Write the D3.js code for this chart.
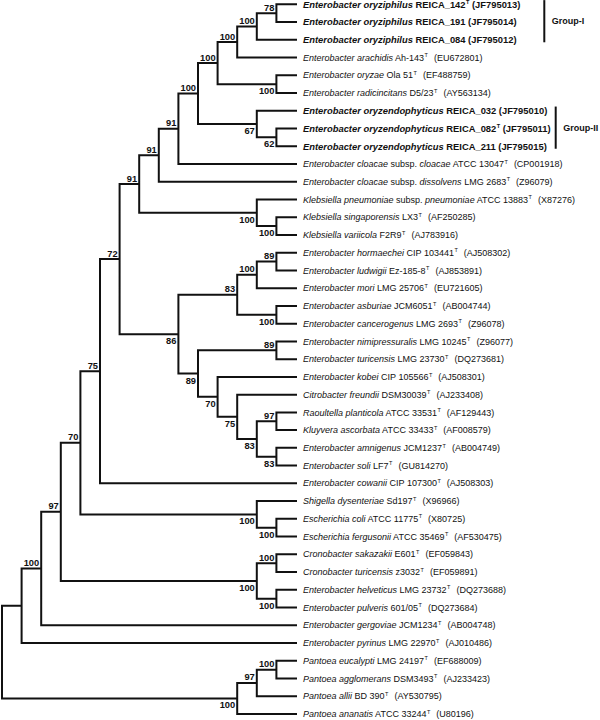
<!DOCTYPE html>
<html>
<head>
<meta charset="utf-8">
<script src="https://cdn.jsdelivr.net/npm/d3@7"></script>
<style>
  html, body { margin: 0; padding: 0; background: #fff; }
  svg { display: block; }
  text { font-family: "Liberation Sans", Arial, Helvetica, sans-serif; fill: #111; }
</style>
</head>
<body>
<svg id="chart" width="600" height="720"></svg>
<script>
// ---------- DATA ----------
// Leaf labels (asterisks mark italic parts), in tree order top to bottom
const taxa = [
  "*Enterobacter oryziphilus* REICA_142",
  "*Enterobacter oryziphilus* REICA_191",
  "*Enterobacter oryziphilus* REICA_084",
  "*Enterobacter arachidis* Ah-143",
  "*Enterobacter oryzae* Ola 51",
  "*Enterobacter radicincitans* D5/23",
  "*Enterobacter oryzendophyticus* REICA_032",
  "*Enterobacter oryzendophyticus* REICA_082",
  "*Enterobacter oryzendophyticus* REICA_211",
  "*Enterobacter cloacae* subsp. *cloacae* ATCC 13047",
  "*Enterobacter cloacae* subsp. *dissolvens* LMG 2683",
  "*Klebsiella pneumoniae* subsp. *pneumoniae* ATCC 13883",
  "*Klebsiella singaporensis* LX3",
  "*Klebsiella variicola* F2R9",
  "*Enterobacter hormaechei* CIP 103441",
  "*Enterobacter ludwigii* Ez-185-8",
  "*Enterobacter mori* LMG 25706",
  "*Enterobacter asburiae* JCM6051",
  "*Enterobacter cancerogenus* LMG 2693",
  "*Enterobacter nimipressuralis* LMG 10245",
  "*Enterobacter turicensis* LMG 23730",
  "*Enterobacter kobei* CIP 105566",
  "*Citrobacter freundii* DSM30039",
  "*Raoultella planticola* ATCC 33531",
  "*Kluyvera ascorbata* ATCC 33433",
  "*Enterobacter amnigenus* JCM1237",
  "*Enterobacter soli* LF7",
  "*Enterobacter cowanii* CIP 107300",
  "*Shigella dysenteriae* Sd197",
  "*Escherichia coli* ATCC 11775",
  "*Escherichia fergusonii* ATCC 35469",
  "*Cronobacter sakazakii* E601",
  "*Cronobacter turicensis* z3032",
  "*Enterobacter helveticus* LMG 23732",
  "*Enterobacter pulveris* 601/05",
  "*Enterobacter gergoviae* JCM1234",
  "*Enterobacter pyrinus* LMG 22970",
  "*Pantoea eucalypti* LMG 24197",
  "*Pantoea agglomerans* DSM3493",
  "*Pantoea allii* BD 390",
  "*Pantoea ananatis* ATCC 33244"
];
// type strain flags (superscript T)
const typeStrain = [1,0,0,1,1,1,0,1,0,1,1,1,1,1,1,1,1,1,1,1,1,1,1,1,1,1,1,1,1,1,1,1,1,1,1,1,1,1,1,1,1];
// GenBank accessions
const accessions = [
  "JF795013","JF795014","JF795012","EU672801","EF488759","AY563134",
  "JF795010","JF795011","JF795015","CP001918","Z96079","X87276",
  "AF250285","AJ783916","AJ508302","AJ853891","EU721605","AB004744",
  "Z96078","Z96077","DQ273681","AJ508301","AJ233408","AF129443",
  "AF008579","AB004749","GU814270","AJ508303","X96966","X80725",
  "AF530475","EF059843","EF059891","DQ273688","DQ273684","AB004748",
  "AJ010486","EF688009","AJ233423","AY530795","U80196"
];
// new isolates shown in bold
const novel = [1,1,1,0,0,0,1,1,1,0,0,0,0,0,0,0,0,0,0,0,0,0,0,0,0,0,0,0,0,0,0,0,0,0,0,0,0,0,0,0,0];
// topology (leaf numbers 1..41) with bootstrap support after each clade
const newick = "(((((((((((((((1,2)78,3)100,4)100,(5,6)100)100,(7,(8,9)62)67)100,10)91,11)91,(12,(13,14)100)100)91,((((15,16)89,17)100,(18,19)100)83,((20,21)89,(22,(23,((24,25)97,(26,27)83)83)75)70)89)86)72,28)75,(29,(30,31)100)100)70,((32,33)100,(34,35)100)100)97,36)100,37),(((38,39)100,40)97,41)100)";
// group brackets
const groupNames = ["Group-I", "Group-II"];
const groupFirst = [0, 6];
const groupLast  = [2, 8];

// ---------- PARSE ----------
function parseNewick(s) {
  let i = 0;
  function num() { let t = ""; while (i < s.length && /[0-9]/.test(s[i])) t += s[i++]; return t; }
  function node() {
    if (s[i] === "(") {
      i++;
      const children = [node()];
      while (s[i] === ",") { i++; children.push(node()); }
      i++; // ')'
      return { children, support: num() };
    }
    return { leaf: +num() - 1 };
  }
  return node();
}

const root = d3.hierarchy(parseNewick(newick), d => d.children);

// ---------- LAYOUT ----------
const tipX = 296, rootX = 2;
const x = d3.scaleLinear().domain([root.height, 0]).range([rootX, tipX]);
const y = d3.scaleLinear().domain([0, taxa.length - 1]).range([4.3, 714]);

root.eachAfter(d => {
  d.px = x(d.height);
  if (d.children) {
    d.py = (d.children[0].py + d.children[d.children.length - 1].py) / 2;
  } else {
    d.py = y(d.data.leaf);
    d.px = tipX;
  }
});

const svg = d3.select("#chart");
const gTree = svg.append("g");

// branches
const paths = [];
root.each(d => {
  if (!d.children) return;
  const first = d.children[0], last = d.children[d.children.length - 1];
  paths.push(`M${d.px},${first.py}V${last.py}`);
  d.children.forEach(c => paths.push(`M${d.px},${c.py}H${c.px}`));
});
gTree.append("path")
  .attr("d", paths.join(""))
  .attr("fill", "none")
  .attr("stroke", "#111")
  .attr("stroke-width", 2)
  .attr("stroke-linecap", "square");

// bootstrap labels
root.each(d => {
  if (!d.children || !d.data.support || !d.parent) return;
  const sib = d.parent.children;
  const isLast = sib[sib.length - 1] === d;
  gTree.append("text")
    .attr("x", d.px - 2)
    .attr("y", isLast ? d.py + 10 : d.py - 2.5)
    .attr("text-anchor", "end")
    .attr("font-size", 9.3)
    .attr("font-weight", "bold")
    .text(d.data.support);
});

// leaf labels
const gLab = svg.append("g");
root.leaves().forEach(d => {
  const i = d.data.leaf;
  const bold = novel[i] === 1;
  const t = gLab.append("text")
    .attr("x", tipX + 7)
    .attr("y", d.py)
    .attr("dy", "0.35em")
    .attr("font-size", bold ? 9.4 : 9)
    .attr("font-weight", bold ? "bold" : "normal");
  const parts = taxa[i].split("*");
  parts.forEach((p, k) => {
    if (!p) return;
    t.append("tspan").attr("font-style", k % 2 === 1 ? "italic" : "normal").text(p);
  });
  if (typeStrain[i]) {
    t.append("tspan").attr("font-size", 5.5).attr("dy", -3.5).attr("dx", 0.5).text("T");
    t.append("tspan").attr("dy", 3.5).attr("dx", bold ? 2.5 : 6).text("(" + accessions[i] + ")");
  } else {
    t.append("tspan").attr("dx", 2.5).text("(" + accessions[i] + ")");
  }
});

// group brackets
const groupX = [544.3, 555.7];
groupNames.forEach((name, k) => {
  const y0 = y(groupFirst[k]) - 4.2, y1 = y(groupLast[k]) + 2.5;
  svg.append("line")
    .attr("x1", groupX[k]).attr("x2", groupX[k])
    .attr("y1", Math.max(0, y0)).attr("y2", y1)
    .attr("stroke", "#111").attr("stroke-width", 2);
  svg.append("text")
    .attr("x", groupX[k] + 7.5)
    .attr("y", (y(groupFirst[k]) + y(groupLast[k])) / 2 - 1)
    .attr("dy", "0.35em")
    .attr("font-size", 9)
    .attr("font-weight", "bold")
    .text(name);
});
</script>
</body>
</html>
